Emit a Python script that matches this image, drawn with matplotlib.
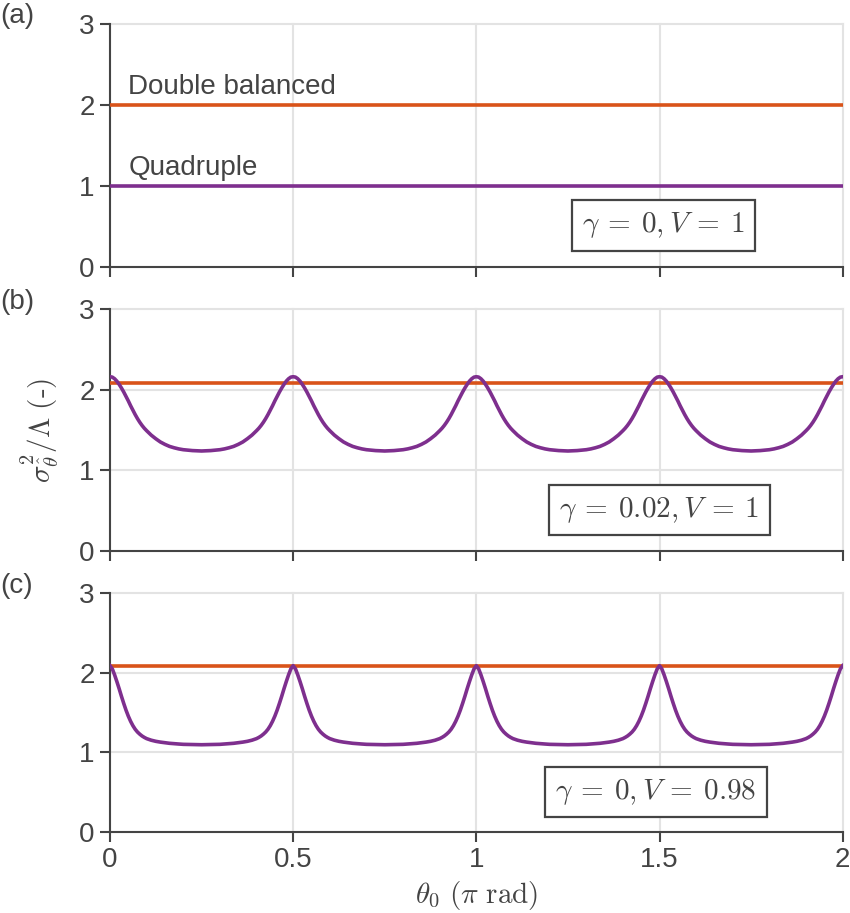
import numpy as np
import matplotlib
matplotlib.use("Agg")
import matplotlib.pyplot as plt

# half a period (0 .. 0.25 pi) of the purple curves
period_x = [0.0, 0.00625, 0.0125, 0.01875, 0.025, 0.03125, 0.0375, 0.04375,
            0.05, 0.05625, 0.0625, 0.06875, 0.075, 0.08125, 0.0875, 0.09375,
            0.1, 0.1125, 0.125, 0.1375, 0.15, 0.1625, 0.175, 0.1875, 0.2,
            0.225, 0.25]
quad_b = [2.16, 2.155, 2.135, 2.105, 2.065, 2.02, 1.97, 1.915,
          1.86, 1.80, 1.745, 1.69, 1.64, 1.595, 1.555, 1.52,
          1.49, 1.435, 1.39, 1.35, 1.32, 1.295, 1.278, 1.264, 1.254,
          1.243, 1.238]
quad_c = [2.09, 2.05, 1.975, 1.89, 1.80, 1.705, 1.615, 1.53,
          1.455, 1.39, 1.335, 1.29, 1.255, 1.228, 1.205, 1.187,
          1.172, 1.152, 1.138, 1.128, 1.12, 1.113, 1.108, 1.104, 1.10,
          1.097, 1.095]

double_level = [2.0, 2.08, 2.09]
quad_level_a = 1.0
panel_tags = ["(a)", "(b)", "(c)"]
panel_notes = [r"$\gamma\:=\:0,V\:=\:1$",
               r"$\gamma\:=\:0.02,V\:=\:1$",
               r"$\gamma\:=\:0,V\:=\:0.98$"]
x_ticks = [0, 0.5, 1, 1.5, 2]
x_ticklabels = ["0", "0.5", "1", "1.5", "2"]
y_ticks = [0, 1, 2, 3]


def full_curve(half):
    # the picture repeats the same half-period, mirrored, four times
    hx = np.array(period_x)
    hy = np.array(half)
    px = np.concatenate([hx, 0.5 - hx[-2::-1]])
    py = np.concatenate([hy, hy[-2::-1]])
    xs, ys = [], []
    for k in range(4):
        xs.append(px[:-1] + 0.5 * k)
        ys.append(py[:-1])
    xs.append([2.0])
    ys.append([py[-1]])
    return np.concatenate(xs), np.concatenate(ys)


plt.rcParams["font.family"] = ["Liberation Sans", "DejaVu Sans"]
plt.rcParams["mathtext.fontset"] = "cm"
plt.rcParams["font.size"] = 20

DARK = "#444444"
ORANGE = "#D95319"
PURPLE = "#7E2F8E"
GRID = "#E3E3E3"

fig = plt.figure(figsize=(8.5, 9.13), dpi=100)
rects = [[0.1294, 0.7079, 0.862, 0.2658],
         [0.1294, 0.3968, 0.862, 0.2647],
         [0.1294, 0.0890, 0.862, 0.2611]]
axes = [fig.add_axes(r) for r in rects]

xb, yb = full_curve(quad_b)
xc, yc = full_curve(quad_c)
purple_data = [([0, 2], [quad_level_a, quad_level_a]), (xb, yb), (xc, yc)]
note_pos = [(1.51, 0.51), (1.50, 0.505), (1.49, 0.50)]
tag_y = [0.982, 0.669, 0.358]

for i, ax in enumerate(axes):
    ax.plot([0, 2], [double_level[i]] * 2, color=ORANGE, lw=2.6,
            solid_capstyle="butt", zorder=3)
    px, py = purple_data[i]
    ax.plot(px, py, color=PURPLE, lw=2.6, zorder=4)
    ax.set_xlim(0, 2)
    ax.set_ylim(0, 3)
    ax.set_xticks(x_ticks)
    ax.set_yticks(y_ticks)
    ax.grid(True, color=GRID, lw=1.5, zorder=0)
    for gl in ax.get_xgridlines() + ax.get_ygridlines():
        gl.set_clip_on(False)
    ax.set_axisbelow(True)
    for s in ["top", "right"]:
        ax.spines[s].set_visible(False)
    for s in ["left", "bottom"]:
        ax.spines[s].set_color(DARK)
        ax.spines[s].set_linewidth(1.5)
    ax.tick_params(direction="out", length=7, width=1.5, color=DARK,
                   labelcolor=DARK, labelsize=20, pad=4)
    if i < 2:
        ax.set_xticklabels([])
    else:
        ax.set_xticklabels(x_ticklabels)
    nx, ny = note_pos[i]
    ax.text(nx, ny, panel_notes[i], fontsize=21, color=DARK, ha="center",
            va="center", zorder=6,
            bbox=dict(boxstyle="square,pad=0.35", fc="white", ec=DARK, lw=1.6))
    fig.text(0.0, tag_y[i], panel_tags[i], fontsize=20, color=DARK,
             ha="left", va="center")

axes[0].text(0.05, 2.13, "Double balanced", color=DARK, fontsize=20,
             va="baseline")
axes[0].text(0.05, 1.13, "Quadruple", color=DARK, fontsize=20, va="baseline")

axes[1].set_ylabel(r"$\sigma^2_{\hat{\theta}}/\Lambda\ (\text{-})$",
                   color=DARK, fontsize=21)
axes[1].yaxis.set_label_coords(-0.067, 0.5)
axes[2].set_xlabel(r"$\theta_0\ (\pi\ \mathrm{rad})$", color=DARK,
                   fontsize=21, labelpad=4)

fig.savefig("out.png", dpi=100)
